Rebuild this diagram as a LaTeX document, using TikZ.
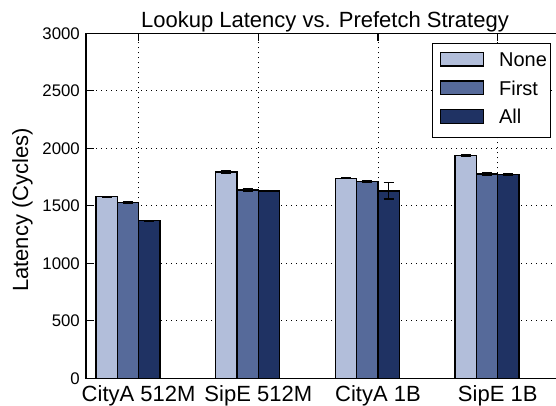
\documentclass[tikz,border=0pt]{standalone}
\usepackage{xcolor}
\usepackage{tikz}
\usetikzlibrary{positioning}
\usepackage{fontspec}
\setmainfont{Liberation Sans}
\definecolor{colNone}{RGB}{178,190,218}
\definecolor{colFirst}{RGB}{86,106,154}
\definecolor{colAll}{RGB}{31,50,99}
\newcommand\axfont{\fontsize{22}{26}\selectfont}
\newcommand\legfont{\fontsize{20}{24}\selectfont}
\newcommand\tickfont{\fontsize{16.8}{20}\selectfont}

\begin{document}
\begin{tikzpicture}[x=1pt,y=1pt]
          \tikzstyle{every node}=[inner sep=0pt]
          \tikzstyle{bar}=[draw=black, line width=1.3pt]
          \tikzstyle{axis}=[black, line width=1.4pt]
          \tikzstyle{gridline}=[black, line width=0.9pt, dash pattern=on 1pt off 4pt]
          \tikzstyle{err}=[black, line width=1.4pt]
          \useasboundingbox (0,0) rectangle (556,406);
          \fill[white] (0,0) rectangle (556,406);
          \begin{scope}[shift={(86,27.7)}, y=0.115pt]
            % grid
            \foreach \v in {500,1000,...,2500}
              \draw[gridline] (0,\v) -- (470,\v);
            \foreach \g in {0,...,3}
              \draw[gridline] (52.6+119.7*\g,0) -- (52.6+119.7*\g,3000);
            % bars with error bars
            \foreach \g/\a/\ea/\b/\eb/\c/\ec/\name in {0/1579/4/1530/5/1370/3/CityA 512M,
                1/1794/8/1637/8/1629/4/SipE 512M,
                2/1739/4/1710/8/1629/71/CityA 1B,
                3/1939/6/1777/9/1772/4/SipE 1B}{
              \pgfmathsetmacro\x{10+119.7*\g}
              \draw[bar, fill=colNone] (\x,0) rectangle (\x+21.3,\a);
              \draw[bar, fill=colFirst] (\x+21.3,0) rectangle (\x+42.6,\b);
              \draw[bar, fill=colAll] (\x+42.6,0) rectangle (\x+63.9,\c);
              \draw[err] (\x+10.65,\a-\ea) -- (\x+10.65,\a+\ea)
                (\x+5.65,\a+\ea) -- ++(10,0) (\x+5.65,\a-\ea) -- ++(10,0);
              \draw[err] (\x+31.95,\b-\eb) -- (\x+31.95,\b+\eb)
                (\x+26.95,\b+\eb) -- ++(10,0) (\x+26.95,\b-\eb) -- ++(10,0);
              \draw[err] (\x+53.25,\c-\ec) -- (\x+53.25,\c+\ec)
                (\x+48.25,\c+\ec) -- ++(10,0) (\x+48.25,\c-\ec) -- ++(10,0);
              \draw[axis] (\x+42.6,3000) -- ++(0,-70);
              \node[anchor=base, font=\axfont] (x\g) at (\x+42.6,-203.5) {\name};
            }
            % axes and ticks
            \draw[axis] (470,3000) -- (0,3000) -- (0,0) -- (470,0);
            \foreach \v in {0,500,...,3000}{
              \draw[axis] (0,\v) -- (8,\v);
              \node[anchor=east, font=\tickfont] (t\v) at (-6,\v) {\v};
            }
          \end{scope}
          \node[anchor=base, font=\axfont] (title) at (325,378.3) {Lookup Latency vs. Prefetch Strategy};
          \node[rotate=90, anchor=base, font=\axfont] (ylab) at (28,196) {Latency (Cycles)};
          % legend
          \draw[bar, fill=white] (432.3,268.7) rectangle (550.7,362.7);
          \node[bar, fill=colNone, minimum width=42.6pt, minimum height=13.7pt] (kNone) at (462,346.7) {};
          \node[bar, fill=colFirst, minimum width=42.6pt, minimum height=13.7pt] (kFirst) at (462,318) {};
          \node[bar, fill=colAll, minimum width=42.6pt, minimum height=13.7pt] (kAll) at (462,289.5) {};
          \node[right=15pt of kNone, font=\legfont] (lNone) {None};
          \node[right=15pt of kFirst, font=\legfont] (lFirst) {First};
          \node[right=15pt of kAll, font=\legfont] (lAll) {All};
        \end{tikzpicture}
\end{document}
